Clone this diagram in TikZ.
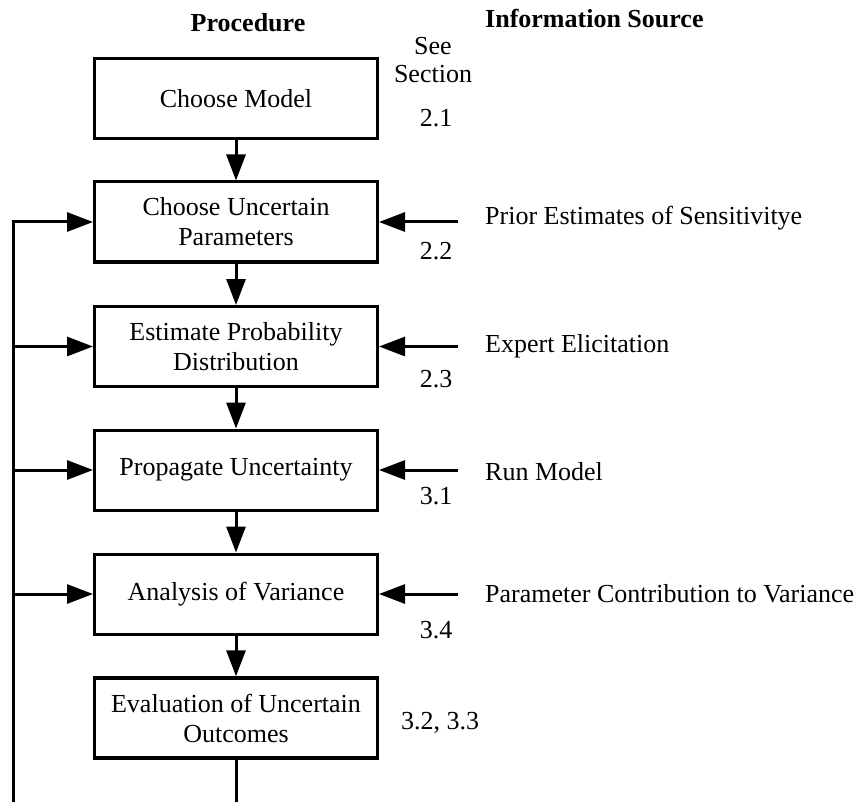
\documentclass[tikz,border=0pt]{standalone}
\usepackage{fontspec}
\setmainfont{Liberation Serif}
\usetikzlibrary{arrows.meta}
\begin{document}
\begin{tikzpicture}[x=1pt,y=-1pt,
  txt/.style={font=\fontsize{26}{30}\selectfont, inner sep=0pt},
  procbox/.style={draw, line width=3pt, minimum width=283pt, minimum height=80pt, align=center, txt},
  lbl/.style={txt, anchor=base west},
  num/.style={txt, anchor=base},
  head/.style={font=\fontsize{26}{30}\selectfont\bfseries, inner sep=0pt, anchor=base},
  conn/.style={line width=3pt},
  arr/.style={line width=3pt, -{Triangle[length=26pt,width=19pt]}}]
\useasboundingbox (0,0) rectangle (864,802);

\node[head] (hproc) at (248,32) {Procedure};
\node[head, anchor=base west] (hinfo) at (485,28) {Information Source};
\node[num] (see) at (433,55) {See};
\node[num] (sec) at (433,83) {Section};

\node[procbox] (b1) at (236,98.5) {Choose Model};
\node[procbox] (b2) at (236,222) {Choose Uncertain\\Parameters};
\node[procbox] (b3) at (236,346.5) {Estimate Probability\\Distribution};
\node[procbox] (b4) at (236,470) {Propagate Uncertainty};
\node[procbox] (b5) at (236,594) {Analysis of Variance};
\node[procbox, line width=3.5pt] (b6) at (236,718) {Evaluation of Uncertain\\Outcomes};

\node[num] (n1) at (436,127) {2.1};
\node[num] (n2) at (436,260) {2.2};
\node[num] (n3) at (436,387) {2.3};
\node[num] (n4) at (436,504) {3.1};
\node[num] (n5) at (436,638) {3.4};
\node[txt, anchor=base west] (n6) at (401,729) {3.2, 3.3};

\node[lbl] (s2) at (485,225) {Prior Estimates of Sensitivitye};
\node[lbl] (s3) at (485,352) {Expert Elicitation};
\node[lbl] (s4) at (485,480) {Run Model};
\node[lbl] (s5) at (485,602) {Parameter Contribution to Variance};

% down arrows
\draw[arr] (b1) -- (b2);
\draw[arr] (b2) -- (b3);
\draw[arr] (b3) -- (b4);
\draw[arr] (b4) -- (b5);
\draw[arr] (b5) -- (b6);
\coordinate (bend) at (236,802);
\draw[conn] (b6.south) -- (bend);

% feedback loop
\coordinate (L0) at (13,802);
\coordinate (L2) at (13,222);
\coordinate (L3) at (13,346.5);
\coordinate (L4) at (13,470);
\coordinate (L5) at (13,594);
\draw[conn] (L0) -- ([yshift=1.5pt]L2);
\draw[arr] ([xshift=-1.5pt]L2) -- (b2.west);
\draw[arr] (L3) -- (b3.west);
\draw[arr] (L4) -- (b4.west);
\draw[arr] (L5) -- (b5.west);

% information sources
\coordinate (R2) at (458,222);
\coordinate (R3) at (458,346.5);
\coordinate (R4) at (458,470);
\coordinate (R5) at (458,594);
\draw[arr] (R2) -- (b2.east);
\draw[arr] (R3) -- (b3.east);
\draw[arr] (R4) -- (b4.east);
\draw[arr] (R5) -- (b5.east);
\end{tikzpicture}
\end{document}
